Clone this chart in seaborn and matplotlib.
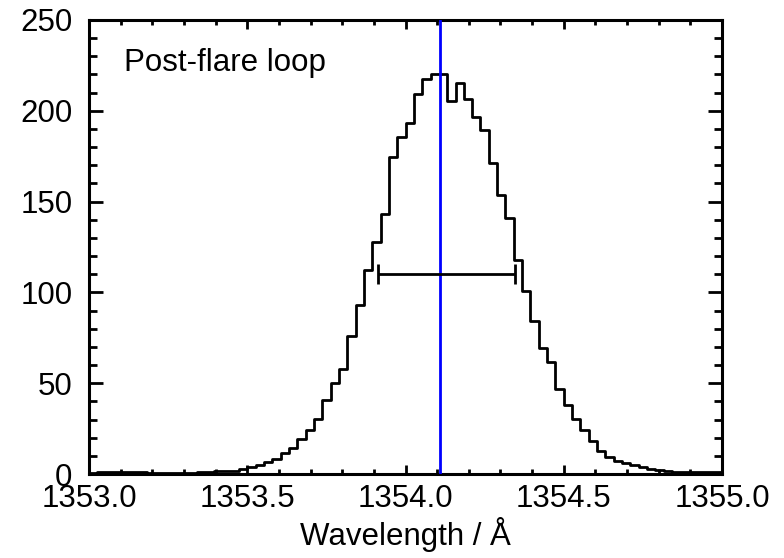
import numpy as np
import pandas as pd
import matplotlib
matplotlib.use("Agg")
import matplotlib.pyplot as plt
import seaborn as sns

# ---- data ----
wl_start = 1353.0
wl_end = 1355.0
n_bins = 76
counts = [0.6, 1.2, 1.3, 0.9, 1.2, 1.3, 1.2, 0.6, 0.4, 0.5,
          0.5, 0.6, 0.8, 1.1, 1.1, 1.4, 1.6, 1.9, 2.8, 4.0,
          4.8, 6.6, 8.1, 11.7, 14.5, 19.1, 24.0, 30.2, 40.7, 49.9,
          57.8, 76.0, 92.9, 112.3, 127.9, 143.0, 174.4, 185.6, 193.5, 209.3,
          217.3, 220.3, 220.3, 205.6, 215.1, 206.3, 196.4, 189.4, 171.1, 153.6,
          141.2, 117.8, 100.5, 84.4, 69.2, 61.5, 46.6, 37.8, 30.1, 24.2,
          18.2, 12.8, 9.5, 7.3, 6.2, 4.8, 3.7, 2.8, 2.0, 1.6,
          1.3, 1.1, 1.0, 1.0, 1.1, 0.9]
line_center = 1354.108
fwhm_left = 1353.912
fwhm_right = 1354.347
fwhm_level = 110
label_text = "Post-flare loop"
x_ticks = [1353.0, 1353.5, 1354.0, 1354.5, 1355.0]
y_ticks = [0, 50, 100, 150, 200, 250]

edges = np.linspace(wl_start, wl_end, n_bins + 1)
centers = 0.5 * (edges[:-1] + edges[1:])
df = pd.DataFrame({"wavelength": centers, "counts": counts})

sns.set_style("ticks")
plt.rcParams["font.family"] = ["Liberation Sans", "DejaVu Sans"]
plt.rcParams["text.color"] = "black"
plt.rcParams["axes.labelcolor"] = "black"

fig = plt.figure(figsize=(7.84, 5.58), dpi=100)
ax = fig.add_axes([0.1135, 0.1505, 0.8075, 0.8137])

sns.histplot(data=df, x="wavelength", weights="counts", bins=edges.tolist(),
             element="step", fill=False, color="black", linewidth=2.0, ax=ax)

ax.axvline(line_center, color="#0000ff", linewidth=2.0, zorder=3)

ctr = 0.5 * (fwhm_left + fwhm_right)
half = 0.5 * (fwhm_right - fwhm_left)
ax.errorbar([ctr], [fwhm_level], xerr=[half], color="black", linewidth=2.0,
            capsize=7, capthick=2.0, zorder=4)

ax.text(0.055, 0.905, label_text, transform=ax.transAxes, fontsize=22.5,
        ha="left", va="center", color="black")

ax.set_xlim(wl_start, wl_end)
ax.set_ylim(0, 250)
ax.set_xticks(x_ticks)
ax.set_xticklabels([f"{v:.1f}" for v in x_ticks])
ax.set_yticks(y_ticks)
ax.set_xticks(np.arange(1353.0, 1355.0001, 0.1), minor=True)
ax.set_yticks(np.arange(0, 250.001, 10), minor=True)
ax.set_xlabel("Wavelength / Å", fontsize=22.5, labelpad=2, color="black")
ax.set_ylabel("")

for s in ax.spines.values():
    s.set_visible(True)
    s.set_linewidth(2.2)
    s.set_color("black")

ax.tick_params(axis="both", which="both", direction="in", top=True, right=True,
               width=2.0, colors="black", labelsize=22.5)
ax.tick_params(axis="x", which="major", length=6.5, pad=7)
ax.tick_params(axis="x", which="minor", length=3.8)
ax.tick_params(axis="y", which="major", length=10, pad=12)
ax.tick_params(axis="y", which="minor", length=6)

fig.savefig("out.png", dpi=100)
